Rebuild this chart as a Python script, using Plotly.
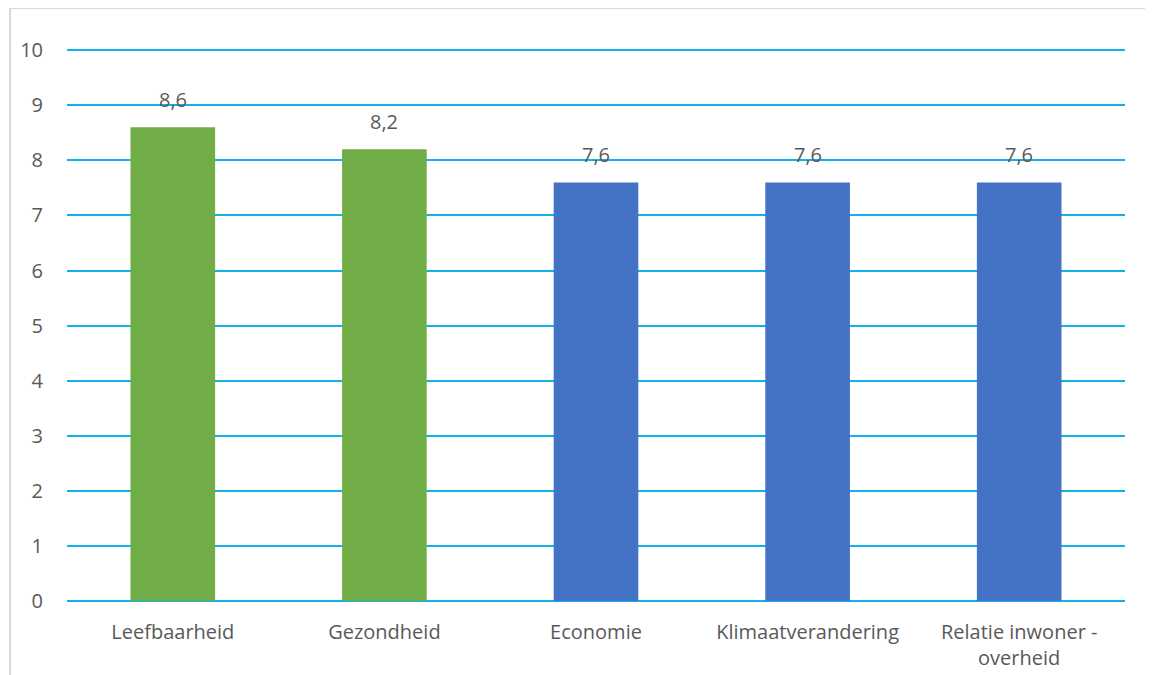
import plotly.graph_objects as go

categories = ["Leefbaarheid", "Gezondheid", "Economie", "Klimaatverandering", "Relatie inwoner -<br>overheid"]
values = [8.6, 8.2, 7.6, 7.6, 7.6]
label_texts = ["8,6", "8,2", "7,6", "7,6", "7,6"]
bar_colors = ["#70AD47", "#70AD47", "#4472C4", "#4472C4", "#4472C4"]
y_ticks = [0, 1, 2, 3, 4, 5, 6, 7, 8, 9, 10]

FONT = "Open Sans, Noto Sans, sans-serif"
TXT = "#595959"
GRID = "#12B0EC"

fig = go.Figure(go.Bar(x=categories, y=values, marker=dict(color=bar_colors, line=dict(width=0)),
                       hoverinfo="skip"))

for c, v, t in zip(categories, values, label_texts):
    fig.add_annotation(x=c, y=v, text=t, showarrow=False, yanchor="bottom", yshift=12,
                       font=dict(family=FONT, size=20, color=TXT))

# page body has an 8px margin; compensate so the plot lands where the reference has it
OFF = 8
YMAX = 10.04
L, R, T, B = 65 - OFF, 28 + OFF, 48 - OFF, 74 + OFF
W, H = 1153, 675
pw, ph = W - L - R, H - T - B
x0 = (8 - OFF - L) / pw
y1 = (H - B - (8 - OFF)) / ph
fig.add_shape(type="rect", xref="paper", yref="paper", x0=x0, x1=1.2, y0=-0.3, y1=y1,
              line=dict(color="#D9D9D9", width=2), fillcolor="rgba(0,0,0,0)", layer="below")

fig.update_layout(
    width=W, height=H,
    margin=dict(l=L, r=R, t=T, b=B),
    paper_bgcolor="white", plot_bgcolor="white",
    bargap=0.6,
    showlegend=False,
    separators=",.",
    font=dict(family=FONT, size=20, color=TXT),
    xaxis=dict(showgrid=False, showline=False, zeroline=False, ticks="",
               tickfont=dict(family=FONT, size=20, color=TXT), ticklabelstandoff=17),
    yaxis=dict(range=[0, YMAX], tickvals=y_ticks, showgrid=True, gridcolor=GRID, gridwidth=1.5,
               zeroline=True, zerolinecolor=GRID, zerolinewidth=1.5, showline=False, ticks="",
               tickfont=dict(family=FONT, size=20, color=TXT), ticklabelstandoff=23),
)

fig.write_html("out.html")
